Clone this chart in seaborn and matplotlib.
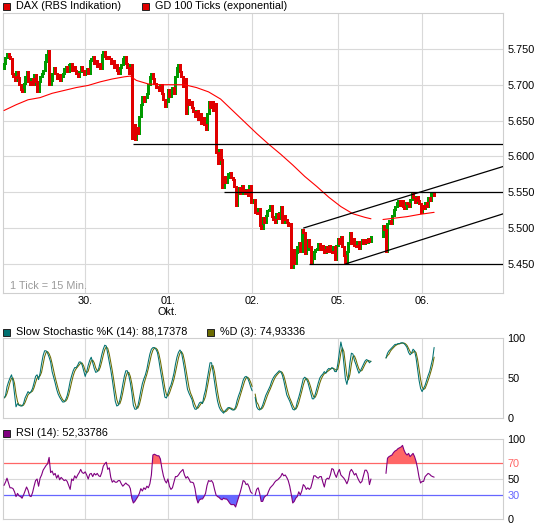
import numpy as np
import pandas as pd
import matplotlib
matplotlib.use("Agg")
import matplotlib.pyplot as plt
import seaborn as sns
from matplotlib.patches import Rectangle

sns.set_style("white")
plt.rcParams['font.family'] = ['Liberation Sans', 'DejaVu Sans']

nan = float('nan')

# ---------------- data ----------------
first_open = 5722
close_vals = [
    5730, 5738, 5744, 5740, 5736, 5716, 5712, 5706, 5718, 5710,
    5700, 5694, 5690, 5702, 5712, 5718, 5704, 5700, 5708, 5700,
    5714, 5704, 5690, 5705, 5712, 5716, 5720, 5732, 5742, 5748,
    5700, 5706, 5716, 5724, 5716, 5708, 5714, 5706, 5712, 5716,
    5722, 5726, 5718, 5728, 5730, 5720, 5726, 5720, 5716, 5712,
    5718, 5726, 5720, 5714, 5720, 5722, 5716, 5734, 5736, 5740,
    5730, 5734, 5726, 5730, 5722, 5742, 5746, 5740, 5736, 5740,
    5736, 5730, 5734, 5724, 5728, 5720, 5716, 5724, 5728, 5736,
    5740, 5730, 5724, 5716, 5728, 5625, 5644, 5624, 5640, 5632,
    5656, 5672, 5684, 5676, 5682, 5688, 5700, 5712, 5716, 5708,
    5702, 5696, 5698, 5692, 5700, 5688, 5680, 5670, 5676, 5694,
    5684, 5690, 5696, 5688, 5712, 5724, 5728, 5718, 5712, 5698,
    5708, 5660, 5680, 5672, 5676, 5668, 5662, 5656, 5664, 5652,
    5660, 5646, 5654, 5644, 5638, 5660, 5676, 5668, 5676, 5664,
    5674, 5606, 5590, 5610, 5596, 5556, 5572, 5564, 5570, 5576,
    5578, 5570, 5568, 5558, 5532, 5552, 5556, 5548, 5560, 5552,
    5548, 5554, 5546, 5560, 5536, 5540, nan, 5522, 5520, 5528,
    5504, 5500, 5515, 5508, 5518, 5524, 5526, 5532, 5516, 5512,
    5508, 5520, 5514, 5522, 5530, 5508, 5518, 5512, 5508, 5504,
    5506, 5445, 5470, 5450, 5466, 5474, 5480, 5468, 5498, 5494,
    5464, 5470, 5484, 5474, 5452, 5458, 5468, 5470, 5472, 5478,
    5470, 5476, 5470, 5466, 5474, 5468, 5476, 5468, 5466, 5474,
    5456, 5476, 5486, 5478, 5488, 5474, 5462, 5450, 5468, 5480,
    5494, 5478, 5486, 5476, 5474, 5482, 5472, 5480, 5484, 5478,
    5484, 5480, 5486, 5482, 5488, nan, nan, nan, nan, nan,
    nan, nan, 5504, 5498, 5468, 5506, 5510, 5506, 5518, 5526,
    5530, 5536, 5538, 5532, 5538, 5530, 5528, 5536, 5534, 5530,
    5540, 5548, 5542, 5536, 5544, 5538, 5534, 5522, 5532, 5528,
    5536, 5530, 5542, 5538, 5548, 5550, 5546,
]

ma_tick = [0, 8, 16, 24, 32, 40, 48, 56, 64, 72, 80, 84, 88, 96, 104, 112,
           120, 128, 136, 144, 152, 160, 168, 176, 184, 192, 200, 208, 216,
           224, 232, 240, 244, 252, 260, 268, 276, 286]
ma_vals = [5664, 5672, 5679, 5682, 5688, 5692, 5696, 5699, 5704, 5708, 5711,
           5712, 5706, 5701, 5700, 5700, 5700, 5696, 5690, 5680, 5664, 5648,
           5632, 5617, 5603, 5588, 5572, 5558, 5543, 5530, 5520, 5515, 5513,
           5512, 5514, 5516, 5519, 5522]
ma_seg = [1] * 33 + [2] * 5

stoch_k = [
    25, 28, 39, 45, 50, 54, 46, 30, 14, 18,
    16, 15, 15, 18, 25, 29, 33, 31, 33, 37,
    44, 52, 54, 48, 56, 68, 78, 84, 84, 81,
    76, 70, 58, 51, 44, 36, 30, 26, 23, 20,
    20, 23, 28, 36, 46, 53, 59, 63, 63, 66,
    70, 70, 66, 59, 52, 58, 66, 72, 76, 69,
    62, 57, 58, 62, 70, 79, 86, 91, 90, 80,
    70, 60, 48, 34, 21, 15, 16, 22, 31, 42,
    52, 59, 59, 53, 44, 32, 16, 11, 11, 15,
    24, 34, 43, 49, 54, 61, 71, 80, 86, 88,
    88, 86, 82, 72, 60, 49, 37, 26, 25, 31,
    37, 41, 48, 56, 67, 76, 82, 85, 82, 72,
    61, 48, 36, 31, 27, 23, 15, 11, 11, 15,
    19, 20, 18, 28, 35, 47, 58, 69, 69, 58,
    45, 32, 21, 14, 10, 8, 6, 9, 11, 13,
    13, 11, 10, 10, 14, 22, 28, 33, 40, 47,
    51, 52, 50, 45, 39, 34, nan, 26, 14, 11,
    10, 12, 16, 22, 28, 32, 36, 40, 46, 50,
    53, 55, 57, 59, 58, 54, 47, 38, 29, 25,
    21, 16, 11, 10, 12, 20, 26, 33, 41, 49,
    51, 49, 45, 38, 31, 24, 24, 30, 37, 44,
    50, 53, 55, 58, 56, 60, 62, 61, 63, 62,
    58, 58, 68, 82, 95, 86, 68, 49, 42, 52,
    69, 81, 80, 72, 67, 61, 56, 59, 63, 67,
    71, 73, 72, 69, 71, nan, nan, nan, nan, nan,
    nan, nan, nan, nan, 75, 81, 84, 86, 88, 90,
    92, 92, 93, 93, 94, 94, 93, 91, 88, 82,
    79, 81, 86, 84, 75, 61, 47, 37, 33, 37,
    41, 47, 53, 58, 66, 74, 88.17,
]

rsi_vals = [
    42, 46, 51, 45, 39, 39, 38, 34, 28, 32,
    29, 28, 26, 30, 35, 40, 36, 29, 28, 33,
    41, 48, 50, 41, 51, 55, 61, 64, 67, 69,
    77, 58, 60, 55, 57, 51, 55, 49, 52, 50,
    48, 49, 47, 42, 37, 50, 48, 54, 51, 55,
    58, 62, 58, 57, 59, 55, 50, 56, 57, 53,
    57, 55, 57, 54, 53, 58, 66, 69, 71, 62,
    64, 52, 46, 48, 46, 46, 48, 48, 44, 41,
    43, 45, 43, 42, 38, 26, 20, 22, 25, 28,
    32, 38, 35, 39, 37, 41, 39, 44, 55, 80,
    81, 80, 79, 79, 75, 63, 54, 48, 45, 50,
    41, 37, 39, 46, 53, 53, 55, 58, 60, 62,
    55, 51, 53, 50, 46, 46, 45, 38, 26, 20,
    24, 25, 25, 28, 32, 42, 48, 47, 48, 45,
    37, 30, 28, 27, 25, 24, 26, 25, 25, 23,
    20, 18, 18, 18, 15, 21, 27, 33, 40, 48,
    47, 43, 44, 40, 34, 32, nan, 30, 37, 39,
    32, 22, 22, 27, 29, 30, 35, 39, 41, 43,
    46, 48, 49, 51, 53, 57, 54, 55, 52, 48,
    41, 31, 20, 22, 26, 28, 34, 30, 35, 43,
    41, 37, 39, 37, 39, 46, 54, 54, 52, 51,
    53, 53, 46, 40, 49, 51, 50, 55, 63, 62,
    56, 52, 58, 62, 55, 53, 51, 48, 44, 49,
    59, 62, 59, 55, 57, 52, 48, 45, 47, 54,
    61, 61, 57, 43, 50, nan, nan, nan, nan, nan,
    nan, nan, nan, nan, 57, 76, 78, 79, 80, 83,
    85, 86, 88, 89, 90, 92, 86, 82, 80, 82,
    78, 80, 82, 78, 72, 63, 52, 45, 47, 47,
    53, 55, 57, 56, 54, 53, 52.34,
]

day_ticks = [54, 109, 165, 222, 278]
day_labels = ["30.", "01.\nOkt.", "02.", "05.", "06."]
price_ticks = [5450, 5500, 5550, 5600, 5650, 5700, 5750]

# analyst lines: (x0, y0, x1, y1) in tick / price units
trend_lines = [
    (86, 5617, 332, 5617),
    (146, 5550, 332, 5550),
    (203, 5450, 332, 5450),
    (199, 5500, 332, 5586),
    (227, 5450, 332, 5520),
]

# ---------------- figure ----------------
W, H = 545, 528
fig = plt.figure(figsize=(W / 100, H / 100), dpi=100)
fig.patch.set_facecolor("white")


def fx(px):
    return px / W


def fy(py):
    return 1 - py / H


X0, X1 = 3, 503
ax_p = fig.add_axes([fx(X0), fy(293), (X1 - X0) / W, (293 - 13) / H])
ax_s = fig.add_axes([fx(X0), fy(418), (X1 - X0) / W, (418 - 338) / H])
ax_r = fig.add_axes([fx(X0), fy(519), (X1 - X0) / W, (519 - 439) / H])

GRID = "#d9d9d9"
XLIM = (-0.66, 331.8)
FS = 7.8

for ax in (ax_p, ax_s, ax_r):
    ax.set_facecolor("white")
    for sp in ax.spines.values():
        sp.set_color("#cfcfcf")
        sp.set_linewidth(0.8)
    for d in day_ticks:
        ax.axvline(d, color=GRID, lw=0.8, zorder=0)
    ax.yaxis.tick_right()
    ax.tick_params(axis="both", length=0, labelsize=FS, colors="black")

# ---- price panel ----
n = len(close_vals)
tick = np.arange(n)
c = pd.Series(close_vals, dtype=float)
o = c.ffill().shift(1)
o.iloc[0] = first_open
valid = c.notna()
up = (c >= o) & valid
dn = (c < o) & valid
for mask, col in ((up, "#009a00"), (dn, "#e00000")):
    lo = np.minimum(o[mask], c[mask]) - 0.7
    hi = np.maximum(o[mask], c[mask]) + 0.7
    ax_p.vlines(tick[mask.values], lo, hi, colors=col, lw=0.75,
                antialiased=False, zorder=3)

for pv in price_ticks:
    ax_p.axhline(pv, color=GRID, lw=0.8, zorder=0)

ma_df = pd.DataFrame({"tick": ma_tick, "value": ma_vals, "seg": ma_seg})
sns.lineplot(data=ma_df, x="tick", y="value", units="seg", estimator=None,
             color="#ff0000", lw=0.8, ax=ax_p, zorder=4)

for x0, y0, x1, y1 in trend_lines:
    ax_p.plot([x0, x1], [y0, y1], color="black", lw=0.9, zorder=5,
              solid_capstyle="butt")

ax_p.set_xlim(*XLIM)
ax_p.set_ylim(5409.5, 5800)
ax_p.set_yticks(price_ticks)
ax_p.set_yticklabels([f"{v/1000:.3f}" for v in price_ticks])
ax_p.set_xticks(day_ticks)
ax_p.set_xticklabels(day_labels)
ax_p.tick_params(axis="x", pad=2)
ax_p.tick_params(axis="y", pad=3)
ax_p.set_xlabel("")
ax_p.set_ylabel("")
ax_p.text(7 / (X1 - X0), (293 - 286) / 280, "1 Tick = 15 Min.",
          transform=ax_p.transAxes, color="#9a9a9a", fontsize=FS,
          ha="left", va="center")


def segments(values):
    s = pd.Series(values, dtype=float)
    ok = s.notna()
    seg = (ok != ok.shift()).cumsum()
    return s, ok, seg


# ---- stochastic panel ----
k, ok_k, seg_k = segments(stoch_k)
d = k.rolling(3, min_periods=1).mean().where(ok_k)
st_df = pd.DataFrame({"tick": tick, "K": k, "D": d, "seg": seg_k})[ok_k]
ax_s.axhline(50, color=GRID, lw=0.8, zorder=0)
sns.lineplot(data=st_df, x="tick", y="D", units="seg", estimator=None,
             color="#6b6b00", lw=0.75, ax=ax_s)
sns.lineplot(data=st_df, x="tick", y="K", units="seg", estimator=None,
             color="#007070", lw=0.75, ax=ax_s)
ax_s.set_xlim(*XLIM)
ax_s.set_ylim(0, 100)
ax_s.set_xticks([])
ax_s.set_yticks([0, 50, 100])
ax_s.set_yticklabels(["0", "50", "100"])
ax_s.tick_params(axis="y", pad=3)
ax_s.set_xlabel("")
ax_s.set_ylabel("")

# ---- RSI panel ----
r, ok_r, seg_r = segments(rsi_vals)
rsi_df = pd.DataFrame({"tick": tick, "RSI": r, "seg": seg_r})[ok_r]
ax_r.axhline(50, color=GRID, lw=0.8, zorder=0)
ax_r.axhline(70, color="#ff6666", lw=0.9, zorder=1)
ax_r.axhline(30, color="#6666ff", lw=0.9, zorder=1)
rv = r.values
ax_r.fill_between(tick, rv, 70, where=np.nan_to_num(rv) >= 70,
                  interpolate=True, color="#ff6666", lw=0, zorder=2)
ax_r.fill_between(tick, rv, 30, where=(np.nan_to_num(rv, nan=50) <= 30),
                  interpolate=True, color="#6666ff", lw=0, zorder=2)
sns.lineplot(data=rsi_df, x="tick", y="RSI", units="seg", estimator=None,
             color="#800080", lw=0.8, ax=ax_r, zorder=3)
ax_r.set_xlim(*XLIM)
ax_r.set_ylim(0, 100)
ax_r.set_xticks([])
ax_r.set_yticks([0, 30, 50, 70, 100])
ax_r.set_yticklabels(["0", "30", "50", "70", "100"])
for lab in ax_r.get_yticklabels():
    if lab.get_text() == "70":
        lab.set_color("#ff6666")
    elif lab.get_text() == "30":
        lab.set_color("#6666ff")
ax_r.tick_params(axis="y", pad=3)
ax_r.set_xlabel("")
ax_r.set_ylabel("")


# ---- legends (text rows) ----
def legend_item(px, py, color, label):
    fig.add_artist(Rectangle((fx(px), fy(py + 4)), 7 / W, 7 / H,
                             transform=fig.transFigure, facecolor=color,
                             edgecolor="#222222", lw=0.7))
    fig.text(fx(px + 13), fy(py), label, fontsize=FS, ha="left",
             va="center", color="black")


legend_item(3, 6, "#e00000", "DAX (RBS Indikation)")
legend_item(142, 6, "#e00000", "GD 100 Ticks (exponential)")
legend_item(3, 332, "#007070", "Slow Stochastic %K (14): 88,17378")
legend_item(207, 332, "#6b6b00", "%D (3): 74,93336")
legend_item(3, 433, "#800080", "RSI (14): 52,33786")

fig.savefig("out.png", dpi=100, facecolor="white")
